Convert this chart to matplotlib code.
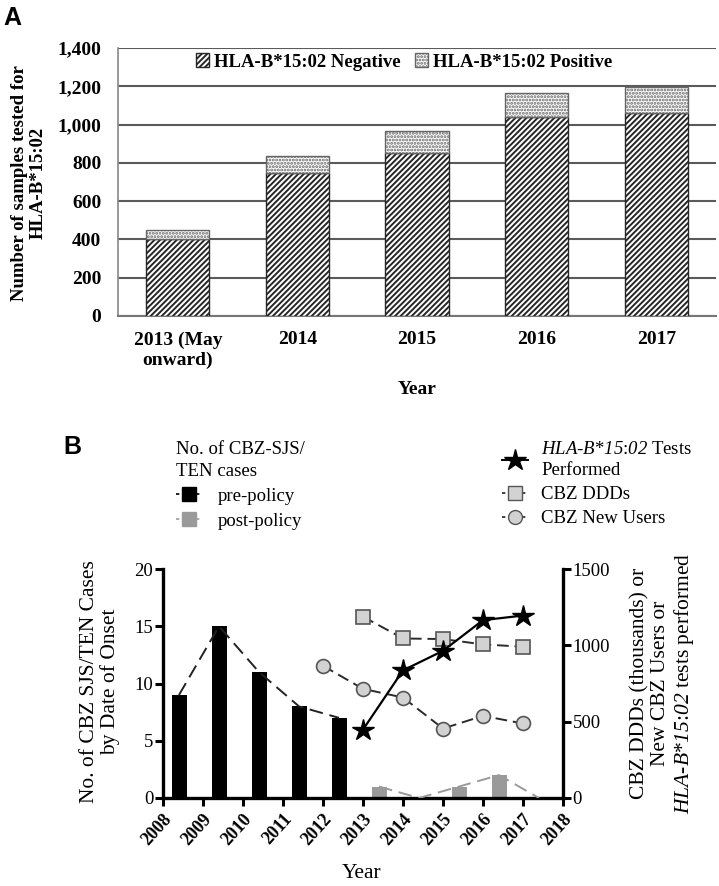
import matplotlib
matplotlib.use("Agg")
import matplotlib.pyplot as plt
from matplotlib.lines import Line2D
import numpy as np

plt.rcParams['font.family'] = ['Liberation Serif', 'DejaVu Serif']
plt.rcParams['mathtext.fontset'] = 'custom'
plt.rcParams['mathtext.rm'] = 'Liberation Serif'
plt.rcParams['mathtext.it'] = 'Liberation Serif:italic'
plt.rcParams['mathtext.sf'] = 'Liberation Serif:italic'
plt.rcParams['hatch.linewidth'] = 1.4

# ---------------- Panel A data ----------------
a_categories = ["2013 (May\nonward)", "2014", "2015", "2016", "2017"]
a_negative = [402, 749, 850, 1040, 1060]
a_total = [448, 836, 964, 1165, 1195]
a_positive = [t - n for t, n in zip(a_total, a_negative)]
a_yticks = [0, 200, 400, 600, 800, 1000, 1200, 1400]

# ---------------- Panel B data ----------------
pre_years = [2008, 2009, 2010, 2011, 2012]
pre_cases = [9, 15, 11, 8, 7]
post_years = [2013, 2014, 2015, 2016, 2017]
post_cases = [1, 0, 1, 2, 0]
test_years = [2013, 2014, 2015, 2016, 2017]
tests_performed = [448, 836, 964, 1165, 1195]
ddd_years = [2013, 2014, 2015, 2016, 2017]
cbz_ddds = [1188, 1045, 1041, 1006, 991]
user_years = [2012, 2013, 2014, 2015, 2016, 2017]
cbz_new_users = [866, 715, 658, 455, 538, 488]
b_xticks = list(range(2008, 2019))

HLA = r"$\mathsf{HLA}$-$\mathsf{B}$*$\mathsf{15}$:$\mathsf{02}$"

W, H = 719, 886
fig = plt.figure(figsize=(W / 100, H / 100), dpi=100)

def fx(px):
    return px / W

def fy(py):
    return 1 - py / H

# ================= Panel A =================
axA = fig.add_axes([fx(118), fy(316), fx(716) - fx(118), fy(48) - fy(316)])
x = np.arange(len(a_categories))
grid_c = '#5a5a5a'
axA.bar(x, a_negative, width=0.53, color='white', edgecolor='#262626',
        hatch='//////', linewidth=1.0, zorder=3, label='HLA-B*15:02 Negative')
axA.bar(x, a_positive, bottom=a_negative, width=0.53, color='white',
        edgecolor='#666666', hatch='.....', linewidth=1.0, zorder=3,
        label='HLA-B*15:02 Positive')
axA.set_ylim(0, 1400)
axA.set_xlim(-0.5, len(a_categories) - 0.5)
axA.set_yticks(a_yticks)
axA.set_yticklabels([f"{v:,}" for v in a_yticks], fontsize=14, fontweight='bold')
axA.set_xticks(x)
axA.set_xticklabels(a_categories, fontsize=14, fontweight='bold')
axA.tick_params(axis='y', length=0, pad=12)
axA.tick_params(axis='x', length=0, pad=11)
axA.grid(axis='y', color=grid_c, linewidth=1.5, zorder=0)
axA.set_axisbelow(True)
for s in ['top', 'right']:
    axA.spines[s].set_visible(False)
axA.spines['left'].set_color('#888888')
axA.spines['left'].set_linewidth(1.2)
axA.spines['bottom'].set_color('#777777')
axA.spines['bottom'].set_linewidth(1.5)
axA.legend(loc='center', bbox_to_anchor=(fx(404), fy(62)), bbox_transform=fig.transFigure,
           ncol=2, frameon=False, handlelength=0.7, handleheight=0.7,
           handletextpad=0.25, columnspacing=0.8,
           prop={'size': 13.5, 'weight': 'bold'})
fig.text(fx(29), fy(183), "Number of samples tested for\nHLA-B*15:02", rotation=90,
         ha='center', va='center', fontsize=13.5, fontweight='bold', linespacing=1.15)
fig.text(fx(417), fy(389), "Year", ha='center', va='center', fontsize=14, fontweight='bold')
fig.text(fx(3), fy(18), "A", ha='left', va='center', fontsize=18, fontweight='bold',
         family='Liberation Sans')

# ================= Panel B =================
axB = fig.add_axes([fx(163), fy(798), fx(563) - fx(163), fy(569) - fy(798)])
axR = axB.twinx()

off, bw = 0.4, 0.375
pre_x = [y + off for y in pre_years]
post_x = [y + off for y in post_years]
axB.bar(pre_x, pre_cases, width=bw, color='black', zorder=2)
axB.plot(pre_x, pre_cases, color='#222222', linestyle=(0, (7, 3.5)), lw=1.4, zorder=3)
axB.bar(post_x, post_cases, width=bw, color='#9a9a9a', zorder=2)
axB.plot(post_x, post_cases, color='#9a9a9a', linestyle=(0, (7, 3.5)), lw=1.4, zorder=3)

axR.plot(user_years, cbz_new_users, color='#2a2a2a', linestyle=(0, (6, 3)), lw=1.4,
         marker='o', markersize=10, markerfacecolor='#d2d2d2', markeredgecolor='#555555',
         markeredgewidth=1.2, zorder=4)
axR.plot(ddd_years, cbz_ddds, color='#2a2a2a', linestyle=(0, (6, 3)), lw=1.4,
         marker='s', markersize=10, markerfacecolor='#d2d2d2', markeredgecolor='#555555',
         markeredgewidth=1.2, zorder=4)
axR.plot(test_years, tests_performed, color='black', linestyle='-', lw=1.6,
         marker='*', markersize=16, markerfacecolor='black', markeredgecolor='black', zorder=5)

axB.set_xlim(2008, 2018)
axB.set_ylim(0, 20)
axR.set_ylim(0, 1500)
axB.set_xticks(b_xticks)
axB.set_xticklabels([str(v) for v in b_xticks], rotation=48, ha='right',
                    rotation_mode='anchor', fontsize=13, fontweight='bold')
axB.set_yticks([0, 5, 10, 15, 20])
axB.tick_params(axis='y', labelsize=13.5, length=6, width=2.2, pad=1)
axB.tick_params(axis='x', length=6, width=2.2, pad=3)
axR.set_yticks([0, 500, 1000, 1500])
axR.tick_params(axis='y', labelsize=13.5, length=6, width=2.2, pad=1)
for ax in (axB, axR):
    ax.spines['top'].set_visible(False)
    for s in ['left', 'bottom', 'right']:
        ax.spines[s].set_linewidth(2.4)
axB.spines['right'].set_visible(False)
axR.spines['left'].set_visible(False)
axR.spines['bottom'].set_visible(False)

fig.text(fx(100), fy(682), "No. of CBZ SJS/TEN Cases\nby Date of Onset", rotation=90,
         ha='center', va='center', fontsize=15.5, linespacing=1.1)
fig.text(fx(663), fy(683), "CBZ DDDs (thousands) or\nNew CBZ Users or\n" + HLA +
         " tests performed",
         rotation=90, ha='center', va='center', fontsize=15.5, linespacing=1.12)
fig.text(fx(362), fy(873), "Year", ha='center', va='center', fontsize=15.5)
fig.text(fx(63), fy(447), "B", ha='left', va='center', fontsize=18, fontweight='bold',
         family='Liberation Sans')

# legends
dash = (0, (2, 2))
left_handles = [
    Line2D([], [], color='black', marker='s', markersize=10, linestyle=dash, lw=1.2),
    Line2D([], [], color='#9a9a9a', marker='s', markersize=10, linestyle=dash, lw=1.2),
]
legL = fig.legend(left_handles, ['pre-policy', 'post-policy'], loc='upper left',
                  bbox_to_anchor=(fx(176), fy(441)), frameon=False, fontsize=13.5,
                  title="No. of CBZ-SJS/\nTEN cases", title_fontsize=13.5, alignment='left',
                  handlelength=1.4, handletextpad=0.8, labelspacing=0.42, borderpad=0,
                  borderaxespad=0)
legL.get_title().set_linespacing(1.35)
right_handles = [
    Line2D([], [], color='black', marker='*', markersize=16, linestyle='-', lw=1.4),
    Line2D([], [], color='#222222', marker='s', markersize=10, markerfacecolor='#d2d2d2',
           markeredgecolor='#555555', linestyle=dash, lw=1.2),
    Line2D([], [], color='#222222', marker='o', markersize=10, markerfacecolor='#d2d2d2',
           markeredgecolor='#555555', linestyle=dash, lw=1.2),
]
legR = fig.legend(right_handles,
                  [HLA + " Tests\nPerformed", "CBZ DDDs", "CBZ New Users"],
                  loc='upper left', bbox_to_anchor=(fx(502), fy(441)), frameon=False,
                  fontsize=13.5, handlelength=1.4, handletextpad=0.7, labelspacing=0.38,
                  borderpad=0, borderaxespad=0)
for t in legR.get_texts():
    t.set_linespacing(1.3)

fig.savefig("out.png", dpi=100)
